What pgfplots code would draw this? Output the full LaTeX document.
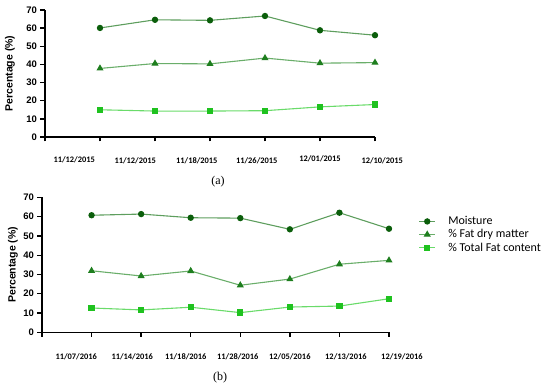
\documentclass[border=0pt]{standalone}
\usepackage{pgfplots}
\pgfplotsset{compat=1.18}
\usepackage{fontspec}
\setmainfont{Carlito}
\newfontfamily\arialb{Liberation Sans}
\newfontfamily\timesf{Liberation Serif}
\definecolor{mmark}{HTML}{0B5E0B}
\definecolor{mline}{HTML}{5E9E5E}
\definecolor{fmark}{HTML}{1E7E1E}
\definecolor{fline}{HTML}{6AAE6A}
\definecolor{tmark}{HTML}{1FC21F}
\definecolor{tline}{HTML}{6ADB6A}
\tikzset{dlab/.style={font=\bfseries\fontsize{8.4}{9}\selectfont, inner sep=0pt}}
\pgfplotsset{
 mystyle/.style={scale only axis, clip=false,
  axis lines=left, axis line style={line width=1.5pt,-},
  tick align=outside, major tick length=4.5pt,
  every tick/.style={line width=1.3pt, black},
  ymin=0, ymax=70, ytick={0,10,...,70},
  yticklabel style={font=\arialb\bfseries\fontsize{9.5}{10}\selectfont},
  /pgf/number format/assume math mode=true,
  ylabel={Percentage (\%)},
  ylabel style={font=\arialb\bfseries\fontsize{10.5}{11}\selectfont, anchor=center},
  xticklabels={},
 },
 moist/.style={color=mline, line width=1.1pt, mark=*, mark size=2.6pt, mark options={fill=mmark, draw=mmark, solid}},
 fatdry/.style={color=fline, line width=1.1pt, mark=triangle*, mark size=3pt, mark options={fill=fmark, draw=fmark, solid}},
 totfat/.style={color=tline, line width=1.1pt, mark=square*, mark size=2.6pt, mark options={fill=tmark, draw=tmark, solid}},
}
\begin{document}
\begin{tikzpicture}
\path[use as bounding box] (0pt,0pt) rectangle (550pt,389pt);
\begin{axis}[mystyle, at={(45pt,252pt)}, anchor=south west, width=330pt, height=127pt,
  xmin=0, xmax=6, xtick={0,...,6},
  ylabel style={at={(axis description cs:-0.106,0.5)}}]
\addplot[moist] coordinates {(1,60.1) (2,64.6) (3,64.3) (4,66.7) (5,58.8) (6,56.1)};
\addplot[fatdry] coordinates {(1,37.8) (2,40.5) (3,40.3) (4,43.5) (5,40.7) (6,41.0)};
\addplot[totfat] coordinates {(1,15.0) (2,14.3) (3,14.3) (4,14.5) (5,16.6) (6,17.9)};
\node[dlab] at (axis cs:0.53,-12.7) {11/12/2015};
\node[dlab] at (axis cs:1.64,-12.9) {11/12/2015};
\node[dlab] at (axis cs:2.76,-12.9) {11/18/2015};
\node[dlab] at (axis cs:3.85,-12.9) {11/26/2015};
\node[dlab] at (axis cs:5.0,-11.8) {12/01/2015};
\node[dlab] at (axis cs:6.13,-12.9) {12/10/2015};
\end{axis}
\begin{axis}[mystyle, at={(42pt,56.7pt)}, anchor=south west, width=347pt, height=135pt,
  xmin=0, xmax=7, xtick={0,...,7},
  ylabel style={at={(axis description cs:-0.084,0.5)}},
  legend style={at={(rel axis cs:1.085,0.87)}, anchor=north west, draw=none, fill=none,
    font=\fontsize{12}{13}\selectfont, row sep=0.3pt, inner sep=0pt,
    nodes={inner sep=1.5pt},
    /tikz/every odd column/.append style={column sep=11pt}},
  legend cell align=left,
  legend image code/.code={\draw[#1, mark repeat=2, mark phase=2] plot coordinates {(0pt,0pt) (8pt,0pt) (16pt,0pt)};}]
\addplot[moist] coordinates {(1,60.7) (2,61.3) (3,59.4) (4,59.2) (5,53.4) (6,62.0) (7,53.7)};
\addplot[fatdry] coordinates {(1,31.9) (2,29.2) (3,31.8) (4,24.4) (5,27.6) (6,35.3) (7,37.3)};
\addplot[totfat] coordinates {(1,12.6) (2,11.6) (3,13.0) (4,10.2) (5,13.1) (6,13.6) (7,17.4)};
\legend{Moisture,\% Fat dry matter,\% Total Fat content}
\node[dlab] at (axis cs:0.69,-12.8) {11/07/2016};
\node[dlab] at (axis cs:1.82,-12.8) {11/14/2016};
\node[dlab] at (axis cs:2.90,-12.8) {11/18/2016};
\node[dlab] at (axis cs:3.95,-12.8) {11/28/2016};
\node[dlab] at (axis cs:5.0,-12.8) {12/05/2016};
\node[dlab] at (axis cs:6.13,-12.8) {12/13/2016};
\node[dlab] at (axis cs:7.26,-12.8) {12/19/2016};
\end{axis}
\node[font=\timesf\fontsize{12}{14}\selectfont] at (218pt,207pt) {(a)};
\node[font=\timesf\fontsize{12}{14}\selectfont] at (220pt,11pt) {(b)};
\end{tikzpicture}
\end{document}
